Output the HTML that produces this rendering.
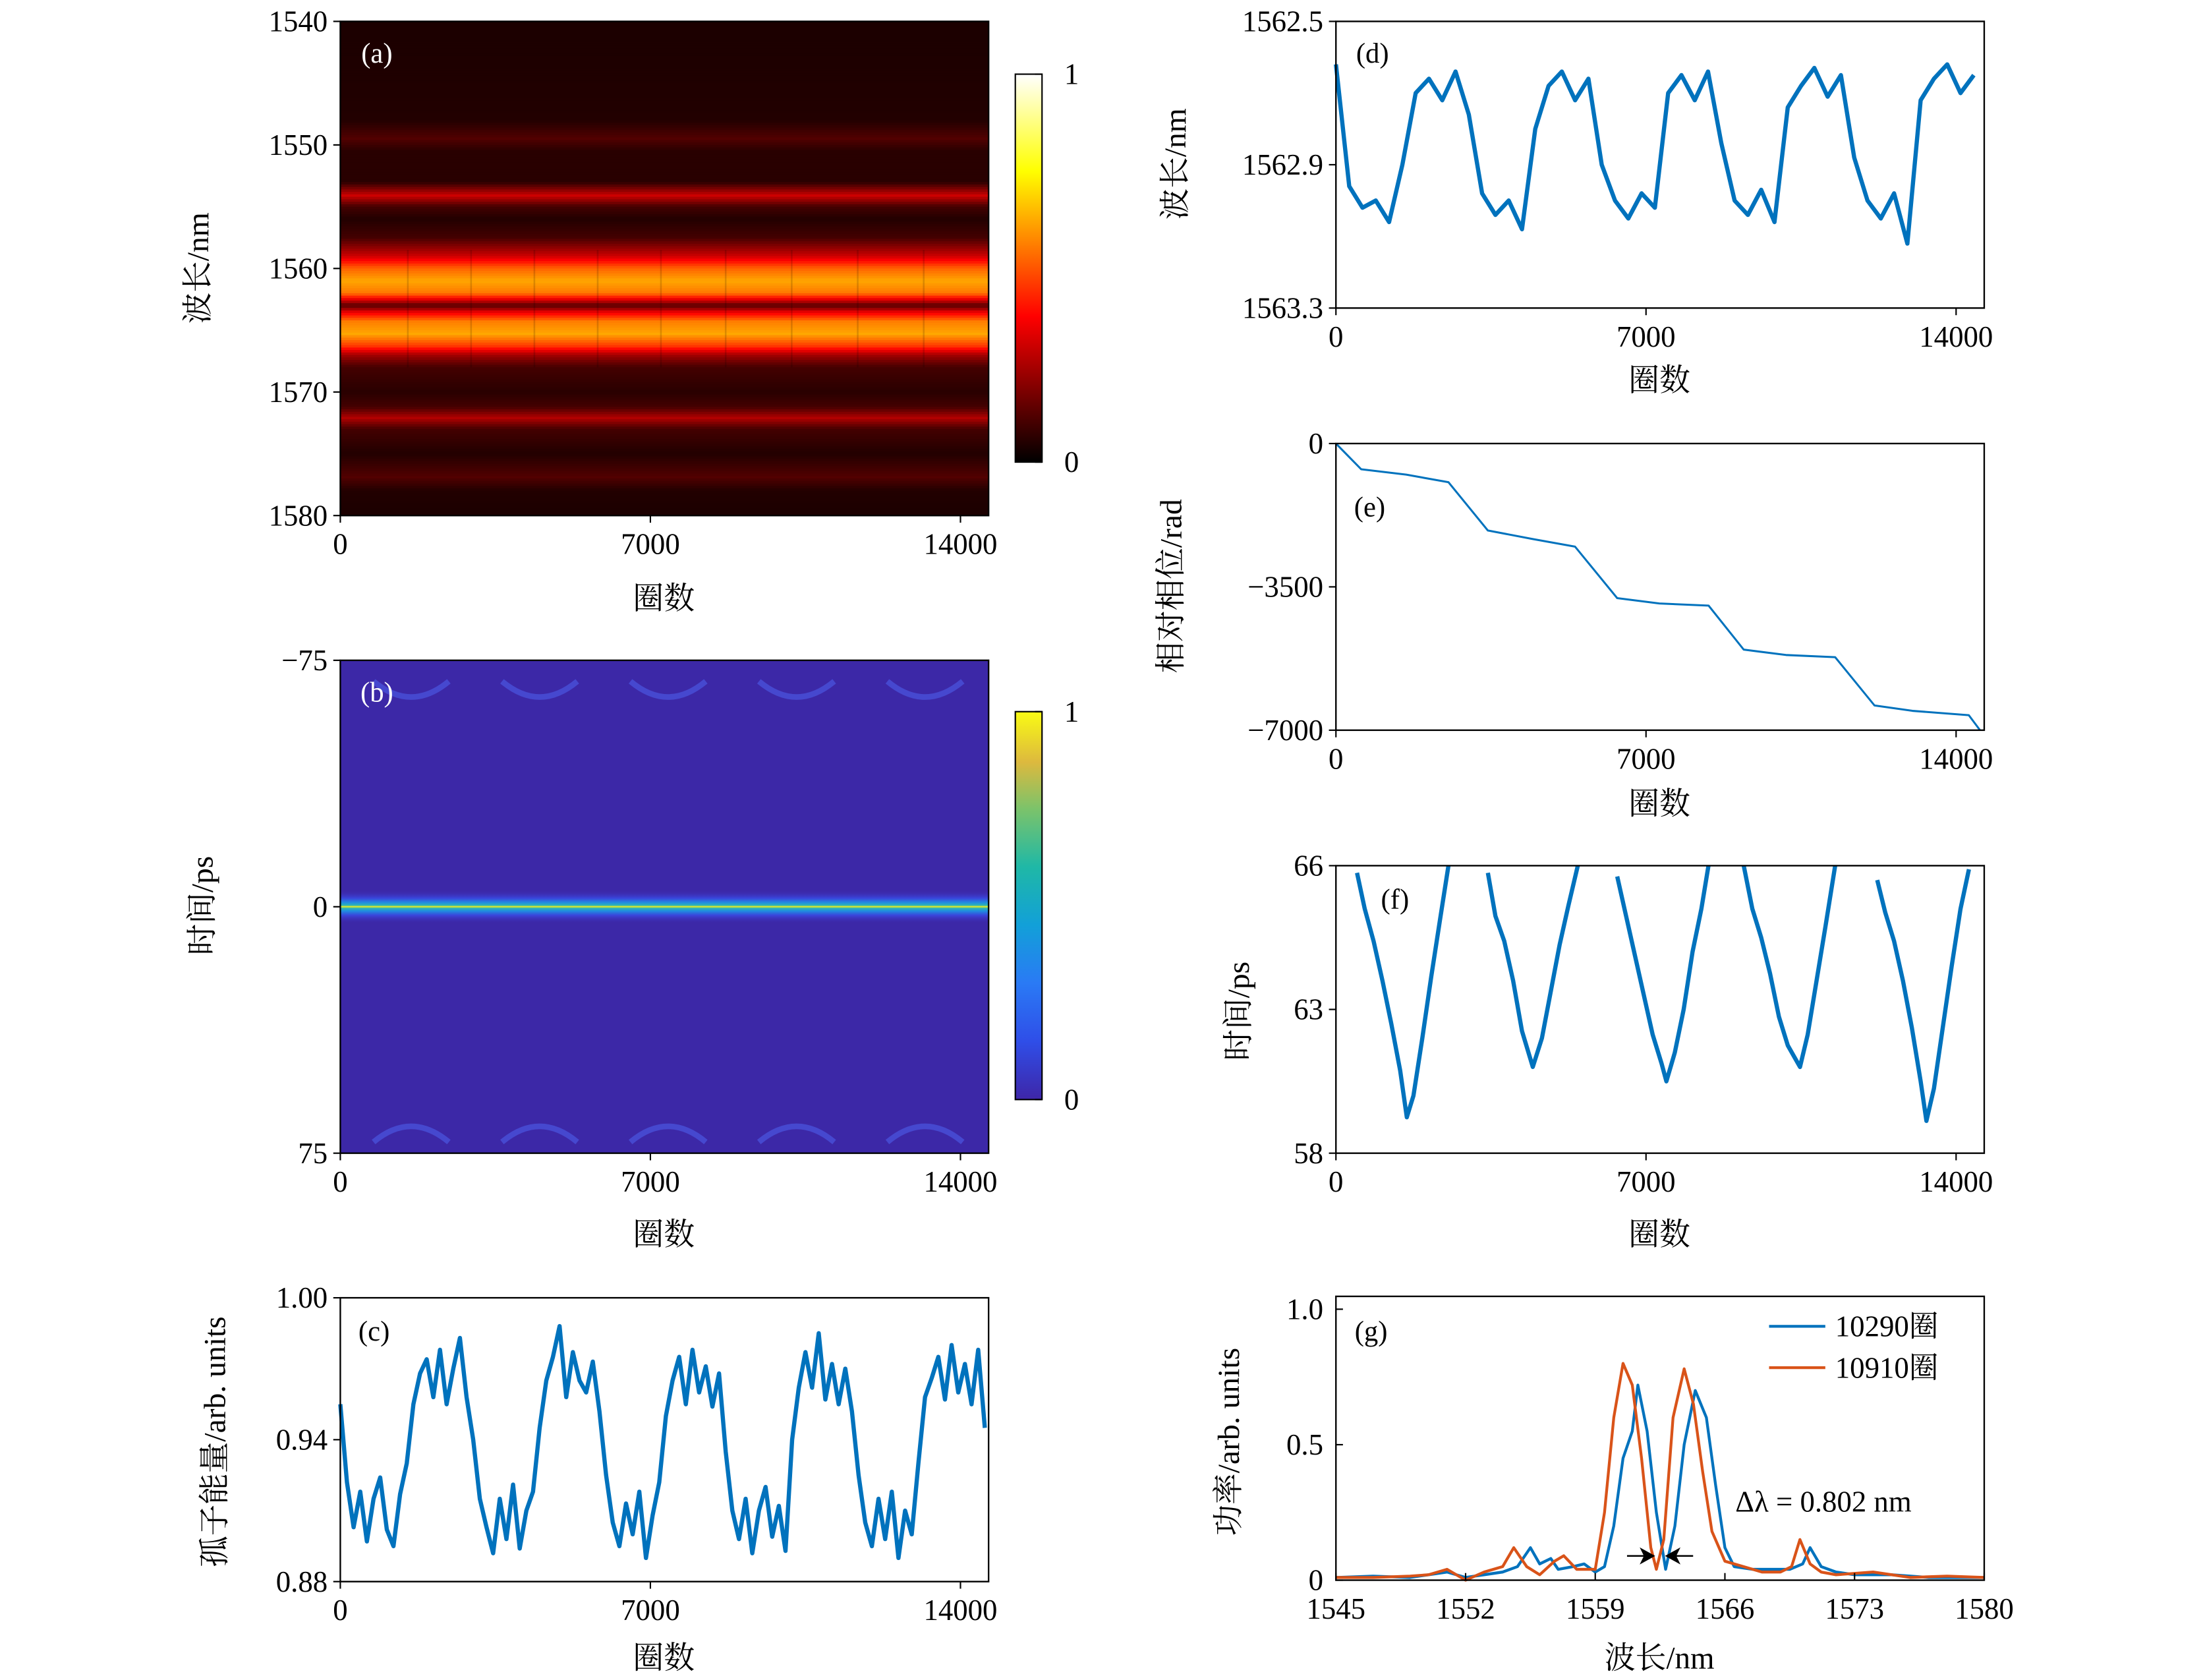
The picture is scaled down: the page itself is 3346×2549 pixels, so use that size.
<!DOCTYPE html>
<html><head><meta charset="utf-8">
<style>
html,body{margin:0;padding:0;background:#fff;}
svg{display:block;}
text{font-family:"Liberation Serif","Noto Serif CJK SC",serif;}
</style></head>
<body>
<svg id="fig" xmlns="http://www.w3.org/2000/svg" width="3346" height="2549" viewBox="0 0 1568 1178" preserveAspectRatio="none">
<defs>
<linearGradient id="hotGrad" x1="0" y1="1" x2="0" y2="0">
<stop offset="0" stop-color="#000000"/><stop offset="0.375" stop-color="#ff0000"/><stop offset="0.75" stop-color="#ffff00"/><stop offset="1" stop-color="#ffffff"/>
</linearGradient>
<linearGradient id="parGrad" x1="0" y1="1" x2="0" y2="0">
<stop offset="0" stop-color="#3e26a8"/><stop offset="0.15" stop-color="#2f4ee8"/><stop offset="0.3" stop-color="#2a7af5"/><stop offset="0.45" stop-color="#12a0d8"/><stop offset="0.6" stop-color="#1fb8a6"/><stop offset="0.75" stop-color="#7cc36a"/><stop offset="0.87" stop-color="#ddb93e"/><stop offset="1" stop-color="#f9fb14"/>
</linearGradient>
<linearGradient id="solitonGrad" x1="0" y1="0" x2="0" y2="1">
<stop offset="0" stop-color="#3e26a8" stop-opacity="0"/><stop offset="0.25" stop-color="#3a45dc"/><stop offset="0.38" stop-color="#1f8ee0"/><stop offset="0.46" stop-color="#2fb5b0"/><stop offset="0.5" stop-color="#f4f01a"/><stop offset="0.54" stop-color="#2fb5b0"/><stop offset="0.62" stop-color="#1f8ee0"/><stop offset="0.75" stop-color="#3a45dc"/><stop offset="1" stop-color="#3e26a8" stop-opacity="0"/>
</linearGradient>
<clipPath id="clipF"><rect x="950" y="607" width="461" height="201.6"/></clipPath>
<clipPath id="clipA"><rect x="242" y="15" width="461" height="346.5"/></clipPath>
<clipPath id="clipB"><rect x="242" y="463" width="461" height="345.6"/></clipPath>
</defs>
</svg>
<script>
// ---------- DATA ----------
const aWl  = [1540,1548,1549.5,1550.5,1553,1554.1,1555,1556,1557.5,1559,1560,1561,1562,1562.6,1563,1563.5,1564.3,1565.3,1566.3,1567,1568,1570,1571.2,1572.1,1573,1575,1576.9,1578,1580];
const aInt = [0.04,0.05,0.12,0.06,0.06,0.3,0.1,0.05,0.1,0.3,0.52,0.62,0.55,0.3,0.12,0.33,0.56,0.62,0.45,0.24,0.1,0.06,0.1,0.26,0.1,0.05,0.12,0.05,0.04];
const bArcTurns = [1600,4500,7400,10300,13200];
const bArcTime = [-66,69];
const cTurnStep = 150;
const cVals = [0.955,0.922,0.903,0.918,0.897,0.915,0.924,0.902,0.895,0.917,0.930,0.955,0.968,0.974,0.958,0.978,0.955,0.970,0.983,0.958,0.940,0.915,0.903,0.892,0.915,0.898,0.921,0.894,0.910,0.918,0.945,0.965,0.975,0.988,0.958,0.977,0.965,0.960,0.973,0.952,0.925,0.905,0.895,0.913,0.900,0.918,0.890,0.908,0.922,0.950,0.965,0.975,0.955,0.978,0.960,0.971,0.954,0.968,0.935,0.910,0.898,0.915,0.892,0.910,0.920,0.899,0.912,0.893,0.940,0.962,0.977,0.962,0.985,0.957,0.972,0.955,0.970,0.952,0.925,0.905,0.895,0.915,0.898,0.918,0.890,0.910,0.900,0.930,0.958,0.966,0.975,0.957,0.980,0.960,0.972,0.955,0.978,0.945];
const dTurnStep = 300;
const dVals = [1562.62,1562.96,1563.02,1563.00,1563.06,1562.90,1562.70,1562.66,1562.72,1562.64,1562.76,1562.98,1563.04,1563.00,1563.08,1562.80,1562.68,1562.64,1562.72,1562.66,1562.90,1563.00,1563.05,1562.98,1563.02,1562.70,1562.65,1562.72,1562.64,1562.84,1563.00,1563.04,1562.97,1563.06,1562.74,1562.68,1562.63,1562.71,1562.65,1562.88,1563.00,1563.05,1562.98,1563.12,1562.72,1562.66,1562.62,1562.70,1562.65];
const eTurns = [0,571,1587,2540,3429,4444,5397,6349,7302,8413,9206,10159,11270,12159,13016,14286,14540];
const eVals  = [0,-629,-760,-944,-2123,-2333,-2517,-3775,-3906,-3958,-5033,-5164,-5217,-6397,-6528,-6633,-7000];
const fTurns = [[476,650,850,1050,1250,1450,1600,1750,1950,2150,2350,2540],
 [3430,3600,3800,4000,4200,4444,4650,4850,5050,5250,5460],
 [6350,6550,6750,6950,7150,7350,7460,7650,7850,8050,8250,8410],
 [9206,9400,9600,9800,10000,10200,10476,10650,10850,11050,11270],
 [12220,12400,12600,12800,13000,13200,13330,13500,13700,13900,14100,14290]];
const fVals = [[65.8,64.8,63.9,62.8,61.6,60.3,59.0,59.6,61.2,62.9,64.5,66.0],
 [65.8,64.6,63.9,62.8,61.4,60.4,61.2,62.5,63.8,64.9,66.0],
 [65.7,64.6,63.5,62.4,61.3,60.5,60.0,60.8,62.0,63.6,64.8,66.0],
 [66.0,64.8,64.0,63.0,61.8,61.0,60.4,61.3,62.8,64.3,66.0],
 [65.6,64.7,63.9,62.8,61.5,60.0,58.9,59.8,61.5,63.2,64.8,65.9]];
const gBlueWl = [1545,1547,1549,1550,1551,1552,1553,1554,1554.8,1555.5,1556,1556.6,1557,1557.8,1558.4,1559,1559.5,1560,1560.5,1561,1561.3,1561.8,1562.3,1562.8,1563.3,1563.8,1564.4,1565,1565.5,1566,1566.5,1567.5,1568.5,1569.5,1570.2,1570.6,1571.2,1572,1573,1575,1577,1580];
const gBlueP  = [0.01,0.015,0.01,0.02,0.03,0.01,0.02,0.03,0.05,0.12,0.06,0.08,0.04,0.05,0.06,0.03,0.05,0.2,0.45,0.55,0.72,0.55,0.25,0.04,0.2,0.5,0.7,0.6,0.35,0.12,0.05,0.04,0.04,0.04,0.06,0.12,0.05,0.03,0.02,0.02,0.01,0.01];
const gOrWl = [1545,1547,1549,1550,1551,1552,1553,1554,1554.6,1555.3,1556,1556.8,1557.3,1558,1559,1559.5,1560,1560.5,1561,1561.5,1562,1562.3,1562.7,1563.2,1563.8,1564.3,1564.8,1565.3,1566,1567,1568,1569,1569.6,1570.05,1570.6,1571.2,1572,1574,1576,1578,1580];
const gOrP  = [0.01,0.01,0.015,0.02,0.04,0.0,0.03,0.05,0.12,0.05,0.02,0.07,0.09,0.04,0.04,0.25,0.6,0.8,0.72,0.45,0.12,0.04,0.15,0.6,0.78,0.65,0.4,0.18,0.07,0.05,0.03,0.03,0.05,0.15,0.06,0.03,0.02,0.03,0.01,0.015,0.01];
const turnTicks = [0,7000,14000];
const aTicks = [1540,1550,1560,1570,1580];
const bTicks = [-75,0,75];
const cTicks = [0.88,0.94,1.00];
const cTickLabels = ["0.88","0.94","1.00"];
const dTicks = [1562.5,1562.9,1563.3];
const eTicks = [0,-3500,-7000];
const eTickLabels = ["0","\u22123500","\u22127000"];
const fTicks = [58,62,66];
const fTickLabels = ["58","63","66"];
const gXTicks = [1545,1552,1559,1566,1573,1580];
const gYTicks = [0,0.5,1.0];
const gYTickLabels = ["0","0.5","1.0"];

// ---------- HELPERS ----------
const svg = document.getElementById('fig');
const NS = 'http://www.w3.org/2000/svg';
function mk(tag, attrs, parent){const e=document.createElementNS(NS,tag);for(const k in attrs)e.setAttribute(k,attrs[k]);(parent||svg).appendChild(e);return e;}
function lin(d0,d1,r0,r1){return v=>r0+(v-d0)/(d1-d0)*(r1-r0);}
function interp(xs,ys,x){if(x<=xs[0])return ys[0];for(let i=1;i<xs.length;i++){if(x<=xs[i]){const t=(x-xs[i-1])/(xs[i]-xs[i-1]);return ys[i-1]+t*(ys[i]-ys[i-1]);}}return ys[ys.length-1];}
function hot(v){const r=Math.min(1,Math.max(0,v/0.375)),g=Math.min(1,Math.max(0,(v-0.375)/0.375)),b=Math.min(1,Math.max(0,(v-0.75)/0.25));return `rgb(${Math.round(r*255)},${Math.round(g*255)},${Math.round(b*255)})`;}
function txt(s,x,y,size,anchor,parent,name,color){const t=mk('text',{x:x,y:y,'font-size':size,'text-anchor':anchor||'middle'},parent);t.style.fill=color||'#000';t.textContent=s;


return t;}
function frame(P,name){const r=mk('rect',{x:P.l,y:P.t,width:P.r-P.l,height:P.b-P.t,fill:'none',stroke:'#000','stroke-width':1.1});

}
function xAxis(P,sx,vals,labels,inward,name){const g=mk('g',{});


vals.forEach((v,i)=>{const x=sx(v);mk('line',{x1:x,x2:x,y1:P.b,y2:inward?P.b-5:P.b+5,stroke:'#000','stroke-width':1},g);txt(labels[i],x,P.b+27,21,'middle',g,'x-tick-label');});}
function yAxis(P,sy,vals,labels,inward,name){const g=mk('g',{});


vals.forEach((v,i)=>{const y=sy(v);mk('line',{x1:P.l,x2:inward?P.l+5:P.l-5,y1:y,y2:y,stroke:'#000','stroke-width':1},g);txt(labels[i],P.l-9,y+7,21,'end',g,'y-tick-label');});}
function yTitle(s,x,y,name){const t=txt(s,x,y,22,'middle',null,name);t.setAttribute('transform',`rotate(-90 ${x} ${y})`);t.setAttribute('dominant-baseline','middle');}
function poly(xs,ys,color,w,name,clip){const p=mk('polyline',{points:xs.map((x,i)=>x+','+ys[i]).join(' '),fill:'none',stroke:color,'stroke-width':w,'stroke-linejoin':'round'});if(clip)p.setAttribute('clip-path',clip);


return p;}

// ---------- PANEL A ----------
const PA={l:242,r:703,t:15,b:361.5};
const axA=lin(0,14000,242,683), ayA=lin(1540,1580,15,361.5);
const heatA=mk('g',{'clip-path':'url(#clipA)'});


for(let wl=1540;wl<1580;wl+=0.2){const v=interp(aWl,aInt,wl+0.1);mk('rect',{x:PA.l,y:ayA(wl),width:PA.r-PA.l,height:ayA(wl+0.2)-ayA(wl)+0.4,fill:hot(v)},heatA);}
[1524,2952,4381,5810,7238,8700,10190,11680,13170].forEach(t=>{mk('rect',{x:axA(t)-0.6,y:ayA(1558.5),width:1.2,height:ayA(1568)-ayA(1558.5),fill:'#000','opacity':0.15},heatA);});
frame(PA,'panel-a-frame');
xAxis(PA,axA,turnTicks,turnTicks.map(String),false,'panel-a-x-axis');
yAxis(PA,ayA,aTicks,aTicks.map(String),false,'panel-a-y-axis');
txt('圈数',472,427,22,'middle',null,'panel-a-x-title');
yTitle('波长/nm',143,188,'panel-a-y-title');
txt('(a)',268,44,20,'middle',null,'panel-a-tag','#fff');
const cbA=mk('rect',{x:722,y:52,width:19,height:272,fill:'url(#hotGrad)',stroke:'#000','stroke-width':1});


mk('line',{x1:741,x2:736,y1:52,y2:52,stroke:'#000'});mk('line',{x1:741,x2:736,y1:324,y2:324,stroke:'#000'});
txt('1',762,59,21,'middle',null,'colorbar-a-max');txt('0',762,331,21,'middle',null,'colorbar-a-min');

// ---------- PANEL B ----------
const PB={l:242,r:703,t:463,b:808.6};
const axB=lin(0,14000,242,683), ayB=lin(-75,75,463,808.6);
const heatB=mk('g',{'clip-path':'url(#clipB)'});


mk('rect',{x:PB.l,y:PB.t,width:461,height:345.6,fill:'#3c28a7'},heatB);
const sol=mk('rect',{x:PB.l,y:ayB(0)-12,width:461,height:24,fill:'url(#solitonGrad)'},heatB);

bArcTurns.forEach(t=>{
  const x0=axB(t-850),x1=axB(t+850),xm=axB(t);
  const yt=ayB(bArcTime[0]);
  const a1=mk('path',{d:`M${x0},${yt-6} Q${xm},${yt+16} ${x1},${yt-6}`,fill:'none',stroke:'#4a55e0','stroke-width':4,opacity:0.7},heatB);
  
  const yb=ayB(bArcTime[1]);
  const a2=mk('path',{d:`M${x0},${yb+6} Q${xm},${yb-16} ${x1},${yb+6}`,fill:'none',stroke:'#4a55e0','stroke-width':4,opacity:0.7},heatB);
  
});
frame(PB,'panel-b-frame');
xAxis(PB,axB,turnTicks,turnTicks.map(String),false,'panel-b-x-axis');
yAxis(PB,ayB,bTicks,["\u221275","0","75"],false,'panel-b-y-axis');
txt('圈数',472,873,22,'middle',null,'panel-b-x-title');
yTitle('时间/ps',146,635,'panel-b-y-title');
txt('(b)',268,492,20,'middle',null,'panel-b-tag','#fff');
const cbB=mk('rect',{x:722,y:499,width:19,height:272,fill:'url(#parGrad)',stroke:'#000','stroke-width':1});


mk('line',{x1:741,x2:736,y1:499,y2:499,stroke:'#000'});mk('line',{x1:741,x2:736,y1:771,y2:771,stroke:'#000'});
txt('1',762,506,21,'middle',null,'colorbar-b-max');txt('0',762,778,21,'middle',null,'colorbar-b-min');

// ---------- PANEL C ----------
const PC={l:242,r:703,t:910,b:1109};
const axC=lin(0,14000,242,683), ayC=lin(0.88,1.00,1109,910);
poly(cVals.map((v,i)=>axC(i*cTurnStep)),cVals.map(v=>ayC(v)),'#0072bd',3,'soliton-energy-line');
frame(PC,'panel-c-frame');
xAxis(PC,axC,turnTicks,turnTicks.map(String),false,'panel-c-x-axis');
yAxis(PC,ayC,cTicks,cTickLabels,false,'panel-c-y-axis');
txt('圈数',472,1170,22,'middle',null,'panel-c-x-title');
yTitle('孤子能量/arb. units',155,1011,'panel-c-y-title');
txt('(c)',266,940,20,'middle',null,'panel-c-tag');

// ---------- PANEL D ----------
const PD={l:950,r:1411,t:15,b:216};
const axD=lin(0,14000,950,1391), ayD=lin(1562.5,1563.3,15,216);
poly(dVals.map((v,i)=>axD(i*dTurnStep)),dVals.map(v=>ayD(v)),'#0072bd',3,'center-wavelength-line');
frame(PD,'panel-d-frame');
xAxis(PD,axD,turnTicks,turnTicks.map(String),false,'panel-d-x-axis');
yAxis(PD,ayD,dTicks,["1562.5","1562.9","1563.3"],false,'panel-d-y-axis');
txt('圈数',1180,274,22,'middle',null,'panel-d-x-title');
yTitle('波长/nm',838,115,'panel-d-y-title');
txt('(d)',976,44,20,'middle',null,'panel-d-tag');

// ---------- PANEL E ----------
const PE={l:950,r:1411,t:311,b:512};
const axE=lin(0,14000,950,1391), ayE=lin(0,-7000,311,512);
poly(eTurns.map(t=>axE(t)),eVals.map(v=>ayE(v)),'#0072bd',1.4,'relative-phase-line');
frame(PE,'panel-e-frame');
xAxis(PE,axE,turnTicks,turnTicks.map(String),false,'panel-e-x-axis');
yAxis(PE,ayE,eTicks,eTickLabels,false,'panel-e-y-axis');
txt('圈数',1180,571,22,'middle',null,'panel-e-x-title');
yTitle('相对相位/rad',835,411,'panel-e-y-title');
txt('(e)',974,362,20,'middle',null,'panel-e-tag');

// ---------- PANEL F ----------
const PF={l:950,r:1411,t:607,b:808.6};
const axF=lin(0,14000,950,1391), ayF=lin(58,66,808.6,607);
fTurns.forEach((ts,k)=>{poly(ts.map(t=>axF(t)),fVals[k].map(v=>ayF(v)),'#0072bd',3,'time-position-cycle','url(#clipF)');});
frame(PF,'panel-f-frame');
xAxis(PF,axF,turnTicks,turnTicks.map(String),false,'panel-f-x-axis');
yAxis(PF,ayF,fTicks,fTickLabels,false,'panel-f-y-axis');
txt('圈数',1180,873,22,'middle',null,'panel-f-x-title');
yTitle('时间/ps',883,709,'panel-f-y-title');
txt('(f)',992,637,20,'middle',null,'panel-f-tag');

// ---------- PANEL G ----------
const PG={l:950,r:1411,t:909,b:1108};
const axG=lin(1545,1580,950,1411), ayG=lin(0,1.0,1108,918);
poly(gBlueWl.map(w=>axG(w)),gBlueP.map(v=>ayG(v)),'#0072bd',2,'spectrum-10290');
poly(gOrWl.map(w=>axG(w)),gOrP.map(v=>ayG(v)),'#d95319',2,'spectrum-10910');
frame(PG,'panel-g-frame');
xAxis(PG,axG,gXTicks,gXTicks.map(String),true,'panel-g-x-axis');
yAxis(PG,ayG,gYTicks,gYTickLabels,true,'panel-g-y-axis');
txt('波长/nm',1180,1170,22,'middle',null,'panel-g-x-title');
yTitle('功率/arb. units',876,1011,'panel-g-y-title');
txt('(g)',975,940,20,'middle',null,'panel-g-tag');
const lg=mk('g',{});


mk('line',{x1:1258,x2:1298,y1:930,y2:930,stroke:'#0072bd','stroke-width':2},lg);
txt('10290圈',1305,937,21,'start',lg,'legend-entry-10290');
mk('line',{x1:1258,x2:1298,y1:959,y2:959,stroke:'#d95319','stroke-width':2},lg);
txt('10910圈',1305,966,21,'start',lg,'legend-entry-10910');
txt('\u0394\u03bb = 0.802 nm',1234,1060,21,'start',null,'delta-lambda-annotation');
const ar=mk('g',{});


mk('line',{x1:1157,x2:1172,y1:1091,y2:1091,stroke:'#000','stroke-width':1.2},ar);
mk('polygon',{points:'1177,1091 1166,1085 1169,1091 1166,1097',fill:'#000'},ar);
mk('line',{x1:1189,x2:1204,y1:1091,y2:1091,stroke:'#000','stroke-width':1.2},ar);
mk('polygon',{points:'1184,1091 1195,1085 1192,1091 1195,1097',fill:'#000'},ar);
</script>
</body></html>
